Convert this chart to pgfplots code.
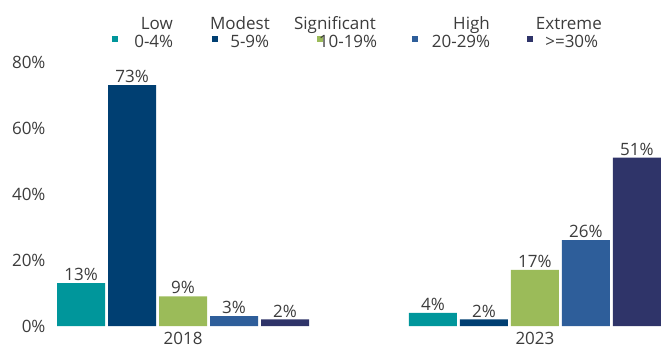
\documentclass[border=0pt]{standalone}
\usepackage{fontspec}
\setmainfont{Open Sans}
\usepackage{pgfplots}
\pgfplotsset{compat=1.18}
\definecolor{cLow}{HTML}{00969B}
\definecolor{cMod}{HTML}{003F72}
\definecolor{cSig}{HTML}{9BBB59}
\definecolor{cHigh}{HTML}{2E5E9A}
\definecolor{cExt}{HTML}{2F3469}
\definecolor{txt}{HTML}{3C3C3C}
\begin{document}
\begin{tikzpicture}[font=\fontsize{17}{20}\selectfont, text=txt]
\begin{axis}[
  at={(0pt,0pt)}, anchor=south west,
  scale only axis, width=606pt, height=264pt,
  ybar=3pt, bar width=48pt,
  xmin=-0.361, xmax=1.361, ymin=0, ymax=80,
  xtick={0,1}, xticklabels={2018,2023},
  ytick={0,20,40,60,80},
  yticklabel={\pgfmathprintnumber{\tick}\%},
  /pgf/number format/assume math mode=true,
  axis line style={draw=none}, major tick length=0pt, tick style={draw=none},
  yticklabel style={xshift=-7pt, text=txt},
  xticklabel style={yshift=-3pt, text=txt},
  nodes near coords={\pgfmathprintnumber{\pgfplotspointmeta}\%},
  every node near coord/.append style={inner sep=2pt, text=txt},
  legend image code/.code={\fill[#1,draw=none] (0pt,5pt) rectangle (6pt,11pt);},
  legend columns=5,
  legend style={draw=none, fill=none, inner sep=0pt, nodes={inner sep=0pt},
    cells={anchor=base west},
    /tikz/column sep=0pt, at={(0.0924,1.1038)}, anchor=north west},
]
\addplot[fill=cLow, draw=none] coordinates {(0,13) (1,4)};
\addplot[fill=cMod, draw=none] coordinates {(0,73) (1,2)};
\addplot[fill=cSig, draw=none] coordinates {(0,9) (1,17)};
\addplot[fill=cHigh, draw=none] coordinates {(0,3) (1,26)};
\addplot[fill=cExt, draw=none] coordinates {(0,2) (1,51)};
\legend{\makebox[94pt][l]{\makebox[55pt][r]{0-4\%}},
        \makebox[99pt][l]{\makebox[51pt][r]{5-9\%}},
        \makebox[89pt][l]{\makebox[54pt][r]{10-19\%}},
        \makebox[109pt][l]{\makebox[72pt][r]{20-29\%}},
        \makebox[65pt][l]{\makebox[65pt][r]{>=30\%}}}
\end{axis}
\node[anchor=base east, inner sep=0pt] at (117pt,296pt) {Low};
\node[anchor=base east, inner sep=0pt] at (214pt,296pt) {Modest};
\node[anchor=base east, inner sep=0pt] at (320pt,296pt) {Significant};
\node[anchor=base east, inner sep=0pt] at (434pt,296pt) {High};
\node[anchor=base east, inner sep=0pt] at (546pt,296pt) {Extreme};
\path (-56pt,-21pt) rectangle (606pt,326pt);
\end{tikzpicture}
\end{document}
